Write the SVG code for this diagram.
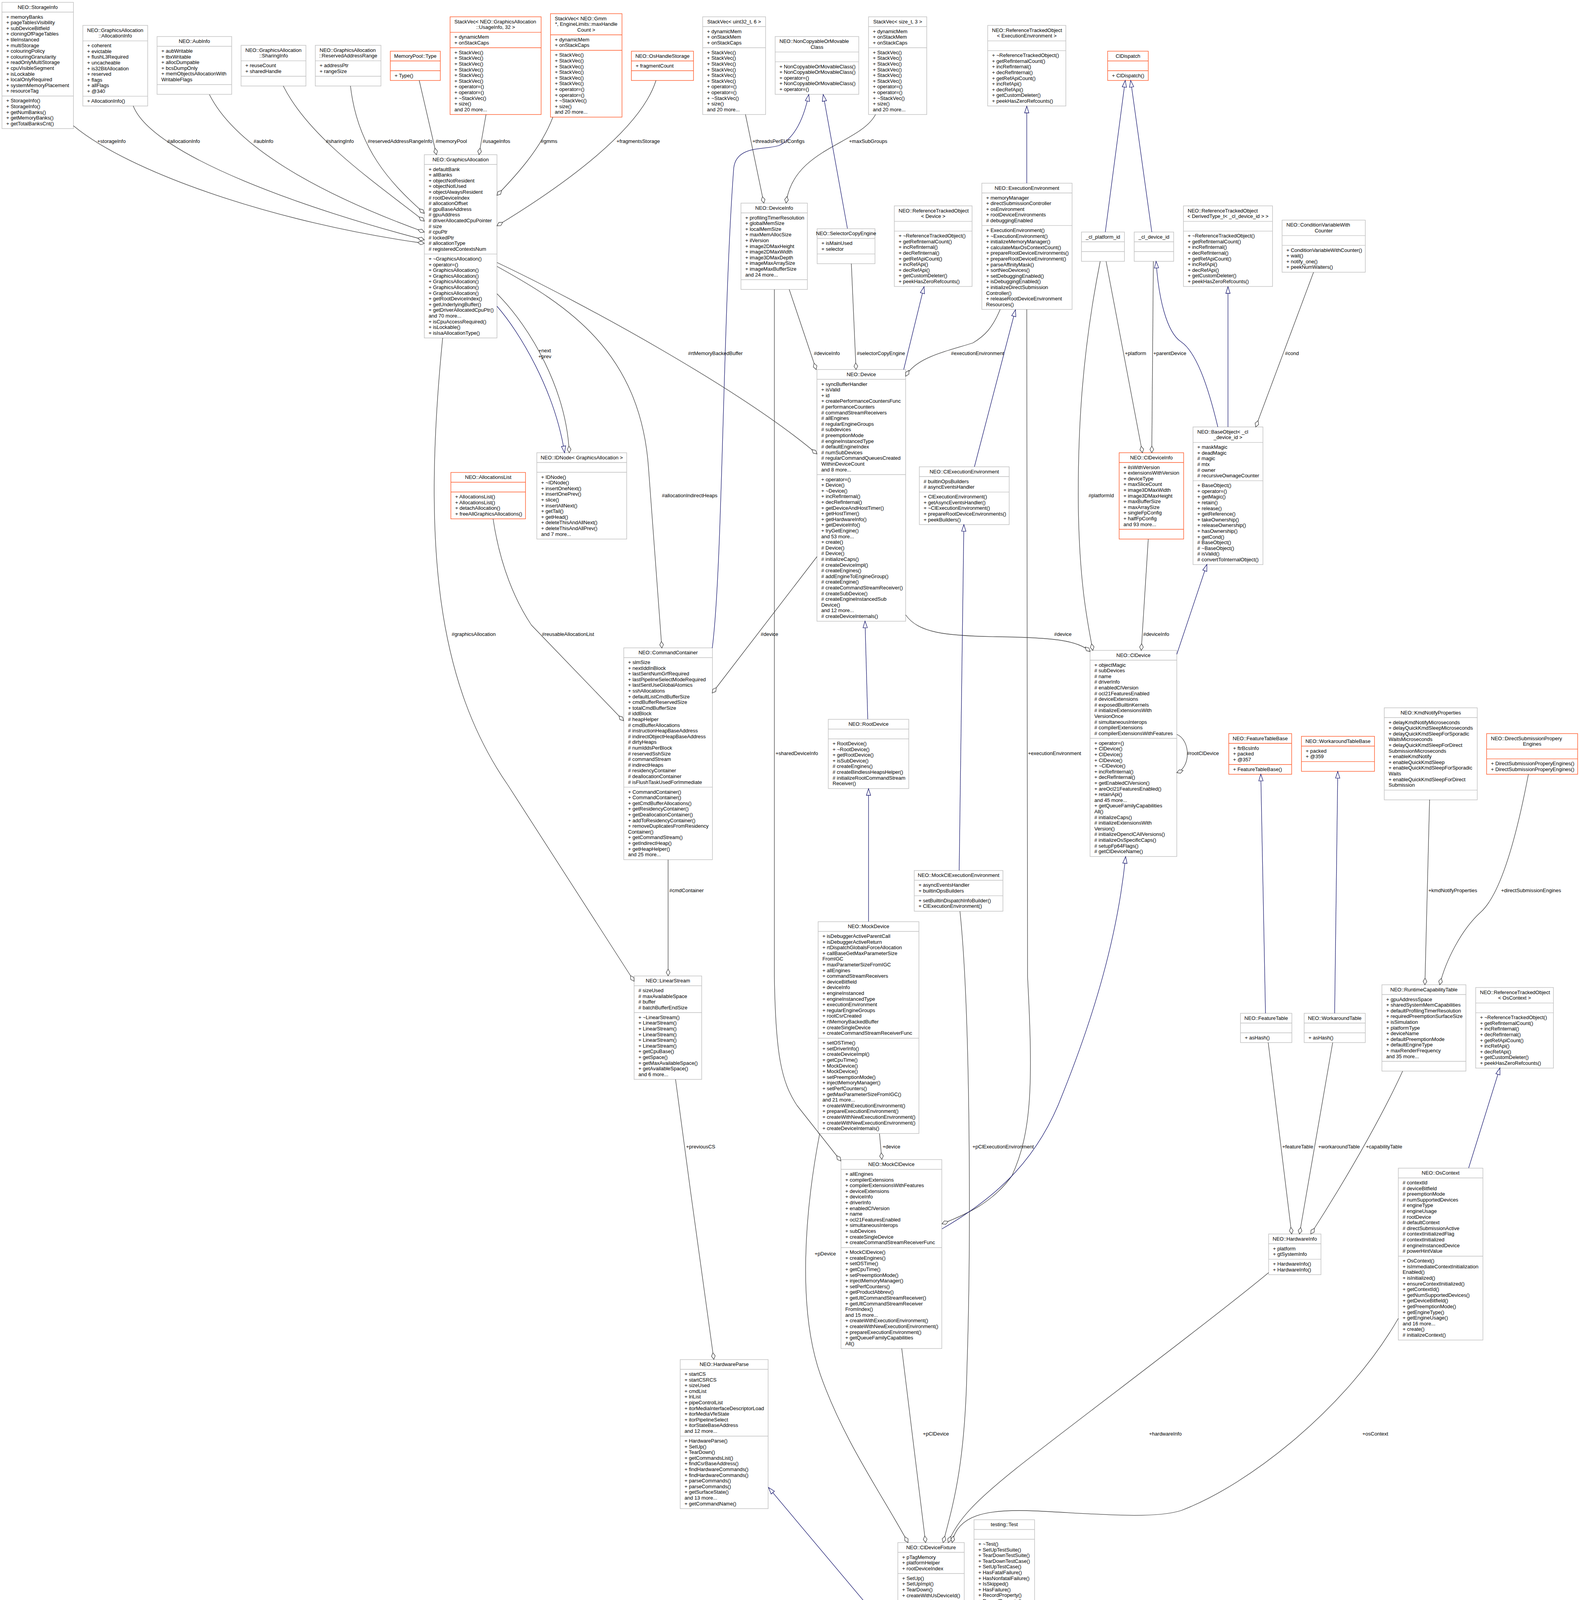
<svg xmlns="http://www.w3.org/2000/svg" width="4044" height="4407" viewBox="0 0 4044 4407">
<defs>
<style>
text{font-family:"Liberation Sans",Arial,sans-serif;font-size:13px;fill:#000}
.c{text-anchor:middle}
.b{fill:#fff;stroke:#bfbfbf;stroke-width:1.4}
.r{fill:#fff;stroke:#ff5a2a;stroke-width:1.4}
.sb{fill:none;stroke:#bfbfbf;stroke-width:1.4}
.sr{fill:none;stroke:#ff5a2a;stroke-width:1.4}
.m{fill:#bfbfbf;stroke:#000;stroke-width:1.4}
.sm{fill:none;stroke:#000;stroke-width:1.4}
.e{fill:none;stroke:#404040;stroke-width:1.3}
.i{fill:none;stroke:#191970;stroke-width:1.3}
</style>
<marker id="dia" viewBox="-2 -7 21 14" refX="17" refY="0" markerWidth="21" markerHeight="14" markerUnits="userSpaceOnUse" orient="auto"><path d="M0,0L8.5,-4.8L17,0L8.5,4.8Z" fill="#fff" stroke="#404040" stroke-width="1.3"/></marker>
<marker id="tri" viewBox="-2 -8 21 16" refX="17" refY="0" markerWidth="21" markerHeight="16" markerUnits="userSpaceOnUse" orient="auto"><path d="M0,-5.5L17,0L0,5.5Z" fill="#fff" stroke="#191970" stroke-width="1.3"/></marker>
</defs>
<rect width="4044" height="4407" fill="#fff"/>

<g id="n_StorageInfo">
<rect class="b" x="5" y="6" width="183" height="323.2"/>
<path class="sb" d="M5,31H188M5,245.8H188"/>
<text class="c" x="96.5" y="22.5">NEO::StorageInfo</text>
<text x="16" y="47.5">+ memoryBanks<tspan x="16" dy="14.6">+ pageTablesVisibility</tspan><tspan x="16" dy="14.6">+ subDeviceBitfield</tspan><tspan x="16" dy="14.6">+ cloningOfPageTables</tspan><tspan x="16" dy="14.6">+ tileInstanced</tspan><tspan x="16" dy="14.6">+ multiStorage</tspan><tspan x="16" dy="14.6">+ colouringPolicy</tspan><tspan x="16" dy="14.6">+ colouringGranularity</tspan><tspan x="16" dy="14.6">+ readOnlyMultiStorage</tspan><tspan x="16" dy="14.6">+ cpuVisibleSegment</tspan><tspan x="16" dy="14.6">+ isLockable</tspan><tspan x="16" dy="14.6">+ localOnlyRequired</tspan><tspan x="16" dy="14.6">+ systemMemoryPlacement</tspan><tspan x="16" dy="14.6">+ resourceTag</tspan></text>
<text x="16" y="262.3">+ StorageInfo()<tspan x="16" dy="14.6">+ StorageInfo()</tspan><tspan x="16" dy="14.6">+ getNumBanks()</tspan><tspan x="16" dy="14.6">+ getMemoryBanks()</tspan><tspan x="16" dy="14.6">+ getTotalBanksCnt()</tspan></text>
</g>

<g id="n_AllocationInfo">
<rect class="b" x="212" y="65" width="166" height="206.4"/>
<path class="sb" d="M212,104.6H378M212,246.4H378"/>
<text x="223" y="81.5">NEO::GraphicsAllocation</text>
<text class="c" x="295" y="96.1">::AllocationInfo</text>
<text x="223" y="121.1">+ coherent<tspan x="223" dy="14.6">+ evictable</tspan><tspan x="223" dy="14.6">+ flushL3Required</tspan><tspan x="223" dy="14.6">+ uncacheable</tspan><tspan x="223" dy="14.6">+ is32BitAllocation</tspan><tspan x="223" dy="14.6">+ reserved</tspan><tspan x="223" dy="14.6">+ flags</tspan><tspan x="223" dy="14.6">+ allFlags</tspan><tspan x="223" dy="14.6">+ @340</tspan></text>
<text x="223" y="262.9">+ AllocationInfo()</text>
</g>

<g id="n_AubInfo">
<rect class="b" x="402" y="93.5" width="191" height="148"/>
<path class="sb" d="M402,118.5H593M402,216.5H593"/>
<text class="c" x="497.5" y="110">NEO::AubInfo</text>
<text x="413" y="135">+ aubWritable<tspan x="413" dy="14.6">+ tbxWritable</tspan><tspan x="413" dy="14.6">+ allocDumpable</tspan><tspan x="413" dy="14.6">+ bcsDumpOnly</tspan><tspan x="413" dy="14.6">+ memObjectsAllocationWith</tspan><tspan x="413" dy="14.6">WritableFlags</tspan></text>
</g>

<g id="n_SharingInfo">
<rect class="b" x="617" y="116" width="166" height="104.2"/>
<path class="sb" d="M617,155.6H783M617,195.2H783"/>
<text x="628" y="132.5">NEO::GraphicsAllocation</text>
<text class="c" x="700" y="147.1">::SharingInfo</text>
<text x="628" y="172.1">+ reuseCount<tspan x="628" dy="14.6">+ sharedHandle</tspan></text>
</g>

<g id="n_ReservedAddressRange">
<rect class="b" x="807" y="116" width="168" height="104.2"/>
<path class="sb" d="M807,155.6H975M807,195.2H975"/>
<text x="818" y="132.5">NEO::GraphicsAllocation</text>
<text class="c" x="891" y="147.1">::ReservedAddressRange</text>
<text x="818" y="172.1">+ addressPtr<tspan x="818" dy="14.6">+ rangeSize</tspan></text>
</g>

<g id="n_MemoryPoolType">
<rect class="r" x="999" y="131" width="128" height="75"/>
<path class="sr" d="M999,156H1127M999,181H1127"/>
<text class="c" x="1063" y="147.5">MemoryPool::Type</text>
<text x="1010" y="197.5">+ Type()</text>
</g>

<g id="n_StackVecUsageInfo">
<rect class="r" x="1152" y="43" width="233" height="250.2"/>
<path class="sr" d="M1152,82.6H1385M1152,122.2H1385"/>
<text x="1163" y="59.5">StackVec&lt; NEO::GraphicsAllocation</text>
<text class="c" x="1268.5" y="74.1">::UsageInfo, 32 &gt;</text>
<text x="1163" y="99.1">+ dynamicMem<tspan x="1163" dy="14.6">+ onStackCaps</tspan></text>
<text x="1163" y="138.7">+ StackVec()<tspan x="1163" dy="14.6">+ StackVec()</tspan><tspan x="1163" dy="14.6">+ StackVec()</tspan><tspan x="1163" dy="14.6">+ StackVec()</tspan><tspan x="1163" dy="14.6">+ StackVec()</tspan><tspan x="1163" dy="14.6">+ StackVec()</tspan><tspan x="1163" dy="14.6">+ operator=()</tspan><tspan x="1163" dy="14.6">+ operator=()</tspan><tspan x="1163" dy="14.6">+ ~StackVec()</tspan><tspan x="1163" dy="14.6">+ size()</tspan><tspan x="1163" dy="14.6">and 20 more...</tspan></text>
</g>

<g id="n_GraphicsAllocation">
<rect class="b" x="1086" y="396" width="186" height="469.2"/>
<path class="sb" d="M1086,421H1272M1086,650.4H1272"/>
<text class="c" x="1179" y="412.5">NEO::GraphicsAllocation</text>
<text x="1097" y="437.5">+ defaultBank<tspan x="1097" dy="14.6">+ allBanks</tspan><tspan x="1097" dy="14.6">+ objectNotResident</tspan><tspan x="1097" dy="14.6">+ objectNotUsed</tspan><tspan x="1097" dy="14.6">+ objectAlwaysResident</tspan><tspan x="1097" dy="14.6"># rootDeviceIndex</tspan><tspan x="1097" dy="14.6"># allocationOffset</tspan><tspan x="1097" dy="14.6"># gpuBaseAddress</tspan><tspan x="1097" dy="14.6"># gpuAddress</tspan><tspan x="1097" dy="14.6"># driverAllocatedCpuPointer</tspan><tspan x="1097" dy="14.6"># size</tspan><tspan x="1097" dy="14.6"># cpuPtr</tspan><tspan x="1097" dy="14.6"># lockedPtr</tspan><tspan x="1097" dy="14.6"># allocationType</tspan><tspan x="1097" dy="14.6"># registeredContextsNum</tspan></text>
<text x="1097" y="666.9">+ ~GraphicsAllocation()<tspan x="1097" dy="14.6">+ operator=()</tspan><tspan x="1097" dy="14.6">+ GraphicsAllocation()</tspan><tspan x="1097" dy="14.6">+ GraphicsAllocation()</tspan><tspan x="1097" dy="14.6">+ GraphicsAllocation()</tspan><tspan x="1097" dy="14.6">+ GraphicsAllocation()</tspan><tspan x="1097" dy="14.6">+ GraphicsAllocation()</tspan><tspan x="1097" dy="14.6">+ getRootDeviceIndex()</tspan><tspan x="1097" dy="14.6">+ getUnderlyingBuffer()</tspan><tspan x="1097" dy="14.6">+ getDriverAllocatedCpuPtr()</tspan><tspan x="1097" dy="14.6">and 70 more...</tspan><tspan x="1097" dy="14.6">+ isCpuAccessRequired()</tspan><tspan x="1097" dy="14.6">+ isLockable()</tspan><tspan x="1097" dy="14.6">+ isIsaAllocationType()</tspan></text>
</g>

<g id="n_StackVecGmm">
<rect class="r" x="1409" y="35" width="183" height="264.8"/>
<path class="sr" d="M1409,89.2H1592M1409,128.8H1592"/>
<text x="1420" y="51.5">StackVec&lt; NEO::Gmm</text>
<text class="c" x="1500.5" y="66.1"> *, EngineLimits::maxHandle</text>
<text class="c" x="1500.5" y="80.7">Count &gt;</text>
<text x="1420" y="105.7">+ dynamicMem<tspan x="1420" dy="14.6">+ onStackCaps</tspan></text>
<text x="1420" y="145.3">+ StackVec()<tspan x="1420" dy="14.6">+ StackVec()</tspan><tspan x="1420" dy="14.6">+ StackVec()</tspan><tspan x="1420" dy="14.6">+ StackVec()</tspan><tspan x="1420" dy="14.6">+ StackVec()</tspan><tspan x="1420" dy="14.6">+ StackVec()</tspan><tspan x="1420" dy="14.6">+ operator=()</tspan><tspan x="1420" dy="14.6">+ operator=()</tspan><tspan x="1420" dy="14.6">+ ~StackVec()</tspan><tspan x="1420" dy="14.6">+ size()</tspan><tspan x="1420" dy="14.6">and 20 more...</tspan></text>
</g>

<g id="n_OsHandleStorage">
<rect class="r" x="1616" y="131" width="159" height="75"/>
<path class="sr" d="M1616,156H1775M1616,181H1775"/>
<text class="c" x="1695.5" y="147.5">NEO::OsHandleStorage</text>
<text x="1627" y="172.5">+ fragmentCount</text>
</g>

<g id="n_StackVecU32">
<rect class="b" x="1798.5" y="43" width="161" height="250.2"/>
<path class="sb" d="M1798.5,68H1959.5M1798.5,122.2H1959.5"/>
<text class="c" x="1879" y="59.5">StackVec&lt; uint32_t, 6 &gt;</text>
<text x="1809.5" y="84.5">+ dynamicMem<tspan x="1809.5" dy="14.6">+ onStackMem</tspan><tspan x="1809.5" dy="14.6">+ onStackCaps</tspan></text>
<text x="1809.5" y="138.7">+ StackVec()<tspan x="1809.5" dy="14.6">+ StackVec()</tspan><tspan x="1809.5" dy="14.6">+ StackVec()</tspan><tspan x="1809.5" dy="14.6">+ StackVec()</tspan><tspan x="1809.5" dy="14.6">+ StackVec()</tspan><tspan x="1809.5" dy="14.6">+ StackVec()</tspan><tspan x="1809.5" dy="14.6">+ operator=()</tspan><tspan x="1809.5" dy="14.6">+ operator=()</tspan><tspan x="1809.5" dy="14.6">+ ~StackVec()</tspan><tspan x="1809.5" dy="14.6">+ size()</tspan><tspan x="1809.5" dy="14.6">and 20 more...</tspan></text>
</g>

<g id="n_NonCopyable">
<rect class="b" x="1984" y="93.5" width="214" height="148"/>
<path class="sb" d="M1984,133.1H2198M1984,158.1H2198"/>
<text x="1995" y="110">NEO::NonCopyableOrMovable</text>
<text class="c" x="2091" y="124.6">Class</text>
<text x="1995" y="174.6">+ NonCopyableOrMovableClass()<tspan x="1995" dy="14.6">+ NonCopyableOrMovableClass()</tspan><tspan x="1995" dy="14.6">+ operator=()</tspan><tspan x="1995" dy="14.6">+ NonCopyableOrMovableClass()</tspan><tspan x="1995" dy="14.6">+ operator=()</tspan></text>
</g>

<g id="n_StackVecSizeT">
<rect class="b" x="2223" y="43" width="149" height="250.2"/>
<path class="sb" d="M2223,68H2372M2223,122.2H2372"/>
<text class="c" x="2297.5" y="59.5">StackVec&lt; size_t, 3 &gt;</text>
<text x="2234" y="84.5">+ dynamicMem<tspan x="2234" dy="14.6">+ onStackMem</tspan><tspan x="2234" dy="14.6">+ onStackCaps</tspan></text>
<text x="2234" y="138.7">+ StackVec()<tspan x="2234" dy="14.6">+ StackVec()</tspan><tspan x="2234" dy="14.6">+ StackVec()</tspan><tspan x="2234" dy="14.6">+ StackVec()</tspan><tspan x="2234" dy="14.6">+ StackVec()</tspan><tspan x="2234" dy="14.6">+ StackVec()</tspan><tspan x="2234" dy="14.6">+ operator=()</tspan><tspan x="2234" dy="14.6">+ operator=()</tspan><tspan x="2234" dy="14.6">+ ~StackVec()</tspan><tspan x="2234" dy="14.6">+ size()</tspan><tspan x="2234" dy="14.6">and 20 more...</tspan></text>
</g>

<g id="n_RefTrackedExecEnv">
<rect class="b" x="2528" y="65" width="200" height="206.4"/>
<path class="sb" d="M2528,104.6H2728M2528,129.6H2728"/>
<text x="2539" y="81.5">NEO::ReferenceTrackedObject</text>
<text class="c" x="2628" y="96.1">&lt; ExecutionEnvironment &gt;</text>
<text x="2539" y="146.1">+ ~ReferenceTrackedObject()<tspan x="2539" dy="14.6">+ getRefInternalCount()</tspan><tspan x="2539" dy="14.6">+ incRefInternal()</tspan><tspan x="2539" dy="14.6">+ decRefInternal()</tspan><tspan x="2539" dy="14.6">+ getRefApiCount()</tspan><tspan x="2539" dy="14.6">+ incRefApi()</tspan><tspan x="2539" dy="14.6">+ decRefApi()</tspan><tspan x="2539" dy="14.6">+ getCustomDeleter()</tspan><tspan x="2539" dy="14.6">+ peekHasZeroRefcounts()</tspan></text>
</g>

<g id="n_DeviceInfo">
<rect class="b" x="1896.5" y="520" width="170" height="221"/>
<path class="sb" d="M1896.5,545H2066.5M1896.5,716H2066.5"/>
<text class="c" x="1981.5" y="536.5">NEO::DeviceInfo</text>
<text x="1907.5" y="561.5">+ profilingTimerResolution<tspan x="1907.5" dy="14.6">+ globalMemSize</tspan><tspan x="1907.5" dy="14.6">+ localMemSize</tspan><tspan x="1907.5" dy="14.6">+ maxMemAllocSize</tspan><tspan x="1907.5" dy="14.6">+ ilVersion</tspan><tspan x="1907.5" dy="14.6">+ image2DMaxHeight</tspan><tspan x="1907.5" dy="14.6">+ image2DMaxWidth</tspan><tspan x="1907.5" dy="14.6">+ image3DMaxDepth</tspan><tspan x="1907.5" dy="14.6">+ imageMaxArraySize</tspan><tspan x="1907.5" dy="14.6">+ imageMaxBufferSize</tspan><tspan x="1907.5" dy="14.6">and 24 more...</tspan></text>
</g>

<g id="n_SelectorCopyEngine">
<rect class="b" x="2091.5" y="585.5" width="148" height="89.6"/>
<path class="sb" d="M2091.5,610.5H2239.5M2091.5,650.1H2239.5"/>
<text class="c" x="2165.5" y="602">NEO::SelectorCopyEngine</text>
<text x="2102.5" y="627">+ isMainUsed<tspan x="2102.5" dy="14.6">+ selector</tspan></text>
</g>

<g id="n_RefTrackedDevice">
<rect class="b" x="2289" y="527" width="199" height="206.4"/>
<path class="sb" d="M2289,566.6H2488M2289,591.6H2488"/>
<text x="2300" y="543.5">NEO::ReferenceTrackedObject</text>
<text class="c" x="2388.5" y="558.1">&lt; Device &gt;</text>
<text x="2300" y="608.1">+ ~ReferenceTrackedObject()<tspan x="2300" dy="14.6">+ getRefInternalCount()</tspan><tspan x="2300" dy="14.6">+ incRefInternal()</tspan><tspan x="2300" dy="14.6">+ decRefInternal()</tspan><tspan x="2300" dy="14.6">+ getRefApiCount()</tspan><tspan x="2300" dy="14.6">+ incRefApi()</tspan><tspan x="2300" dy="14.6">+ decRefApi()</tspan><tspan x="2300" dy="14.6">+ getCustomDeleter()</tspan><tspan x="2300" dy="14.6">+ peekHasZeroRefcounts()</tspan></text>
</g>

<g id="n_ExecutionEnvironment">
<rect class="b" x="2513" y="469" width="231" height="323.2"/>
<path class="sb" d="M2513,494H2744M2513,577.4H2744"/>
<text class="c" x="2628.5" y="485.5">NEO::ExecutionEnvironment</text>
<text x="2524" y="510.5">+ memoryManager<tspan x="2524" dy="14.6">+ directSubmissionController</tspan><tspan x="2524" dy="14.6">+ osEnvironment</tspan><tspan x="2524" dy="14.6">+ rootDeviceEnvironments</tspan><tspan x="2524" dy="14.6"># debuggingEnabled</tspan></text>
<text x="2524" y="593.9">+ ExecutionEnvironment()<tspan x="2524" dy="14.6">+ ~ExecutionEnvironment()</tspan><tspan x="2524" dy="14.6">+ initializeMemoryManager()</tspan><tspan x="2524" dy="14.6">+ calculateMaxOsContextCount()</tspan><tspan x="2524" dy="14.6">+ prepareRootDeviceEnvironments()</tspan><tspan x="2524" dy="14.6">+ prepareRootDeviceEnvironment()</tspan><tspan x="2524" dy="14.6">+ parseAffinityMask()</tspan><tspan x="2524" dy="14.6">+ sortNeoDevices()</tspan><tspan x="2524" dy="14.6">+ setDebuggingEnabled()</tspan><tspan x="2524" dy="14.6">+ isDebuggingEnabled()</tspan><tspan x="2524" dy="14.6">+ initializeDirectSubmission</tspan><tspan x="2524" dy="14.6">Controller()</tspan><tspan x="2524" dy="14.6">+ releaseRootDeviceEnvironment</tspan><tspan x="2524" dy="14.6">Resources()</tspan></text>
</g>

<g id="n_Device">
<rect class="b" x="2091" y="946" width="227" height="644.4"/>
<path class="sb" d="M2091,971H2318M2091,1215H2318"/>
<text class="c" x="2204.5" y="962.5">NEO::Device</text>
<text x="2102" y="987.5">+ syncBufferHandler<tspan x="2102" dy="14.6">+ isValid</tspan><tspan x="2102" dy="14.6">+ id</tspan><tspan x="2102" dy="14.6">+ createPerformanceCountersFunc</tspan><tspan x="2102" dy="14.6"># performanceCounters</tspan><tspan x="2102" dy="14.6"># commandStreamReceivers</tspan><tspan x="2102" dy="14.6"># allEngines</tspan><tspan x="2102" dy="14.6"># regularEngineGroups</tspan><tspan x="2102" dy="14.6"># subdevices</tspan><tspan x="2102" dy="14.6"># preemptionMode</tspan><tspan x="2102" dy="14.6"># engineInstancedType</tspan><tspan x="2102" dy="14.6"># defaultEngineIndex</tspan><tspan x="2102" dy="14.6"># numSubDevices</tspan><tspan x="2102" dy="14.6"># regularCommandQueuesCreated</tspan><tspan x="2102" dy="14.6">WithinDeviceCount</tspan><tspan x="2102" dy="14.6">and 8 more...</tspan></text>
<text x="2102" y="1231.5">+ operator=()<tspan x="2102" dy="14.6">+ Device()</tspan><tspan x="2102" dy="14.6">+ ~Device()</tspan><tspan x="2102" dy="14.6">+ incRefInternal()</tspan><tspan x="2102" dy="14.6">+ decRefInternal()</tspan><tspan x="2102" dy="14.6">+ getDeviceAndHostTimer()</tspan><tspan x="2102" dy="14.6">+ getHostTimer()</tspan><tspan x="2102" dy="14.6">+ getHardwareInfo()</tspan><tspan x="2102" dy="14.6">+ getDeviceInfo()</tspan><tspan x="2102" dy="14.6">+ tryGetEngine()</tspan><tspan x="2102" dy="14.6">and 53 more...</tspan><tspan x="2102" dy="14.6">+ create()</tspan><tspan x="2102" dy="14.6"># Device()</tspan><tspan x="2102" dy="14.6"># Device()</tspan><tspan x="2102" dy="14.6"># initializeCaps()</tspan><tspan x="2102" dy="14.6"># createDeviceImpl()</tspan><tspan x="2102" dy="14.6"># createEngines()</tspan><tspan x="2102" dy="14.6"># addEngineToEngineGroup()</tspan><tspan x="2102" dy="14.6"># createEngine()</tspan><tspan x="2102" dy="14.6"># createCommandStreamReceiver()</tspan><tspan x="2102" dy="14.6"># createSubDevice()</tspan><tspan x="2102" dy="14.6"># createEngineInstancedSub</tspan><tspan x="2102" dy="14.6">Device()</tspan><tspan x="2102" dy="14.6">and 12 more...</tspan><tspan x="2102" dy="14.6"># createDeviceInternals()</tspan></text>
</g>

<g id="n_ClDispatch">
<rect class="r" x="2835" y="131" width="104" height="75"/>
<path class="sr" d="M2835,156H2939M2835,181H2939"/>
<text class="c" x="2887" y="147.5">ClDispatch</text>
<text x="2846" y="197.5">+ ClDispatch()</text>
</g>

<g id="n_cl_platform_id">
<rect class="b" x="2768" y="594" width="110" height="75"/>
<path class="sb" d="M2768,619H2878M2768,644H2878"/>
<text class="c" x="2823" y="610.5">_cl_platform_id</text>
</g>

<g id="n_cl_device_id">
<rect class="b" x="2903" y="594" width="101" height="75"/>
<path class="sb" d="M2903,619H3004M2903,644H3004"/>
<text class="c" x="2953.5" y="610.5">_cl_device_id</text>
</g>

<g id="n_RefTrackedDerived">
<rect class="b" x="3029" y="527" width="228" height="206.4"/>
<path class="sb" d="M3029,566.6H3257M3029,591.6H3257"/>
<text x="3040" y="543.5">NEO::ReferenceTrackedObject</text>
<text class="c" x="3143" y="558.1">&lt; DerivedType_t&lt; _cl_device_id &gt; &gt;</text>
<text x="3040" y="608.1">+ ~ReferenceTrackedObject()<tspan x="3040" dy="14.6">+ getRefInternalCount()</tspan><tspan x="3040" dy="14.6">+ incRefInternal()</tspan><tspan x="3040" dy="14.6">+ decRefInternal()</tspan><tspan x="3040" dy="14.6">+ getRefApiCount()</tspan><tspan x="3040" dy="14.6">+ incRefApi()</tspan><tspan x="3040" dy="14.6">+ decRefApi()</tspan><tspan x="3040" dy="14.6">+ getCustomDeleter()</tspan><tspan x="3040" dy="14.6">+ peekHasZeroRefcounts()</tspan></text>
</g>

<g id="n_ConditionVariableWithCounter">
<rect class="b" x="3281.5" y="563.5" width="213" height="133.4"/>
<path class="sb" d="M3281.5,603.1H3494.5M3281.5,628.1H3494.5"/>
<text x="3292.5" y="580">NEO::ConditionVariableWith</text>
<text class="c" x="3388" y="594.6">Counter</text>
<text x="3292.5" y="644.6">+ ConditionVariableWithCounter()<tspan x="3292.5" dy="14.6">+ wait()</tspan><tspan x="3292.5" dy="14.6">+ notify_one()</tspan><tspan x="3292.5" dy="14.6">+ peekNumWaiters()</tspan></text>
</g>

<g id="n_BaseObject">
<rect class="b" x="3053.5" y="1093" width="179" height="352.4"/>
<path class="sb" d="M3053.5,1132.6H3232.5M3053.5,1230.6H3232.5"/>
<text x="3064.5" y="1109.5">NEO::BaseObject&lt; _cl</text>
<text class="c" x="3143" y="1124.1">_device_id &gt;</text>
<text x="3064.5" y="1149.1">+ maskMagic<tspan x="3064.5" dy="14.6">+ deadMagic</tspan><tspan x="3064.5" dy="14.6"># magic</tspan><tspan x="3064.5" dy="14.6"># mtx</tspan><tspan x="3064.5" dy="14.6"># owner</tspan><tspan x="3064.5" dy="14.6"># recursiveOwnageCounter</tspan></text>
<text x="3064.5" y="1247.1">+ BaseObject()<tspan x="3064.5" dy="14.6">+ operator=()</tspan><tspan x="3064.5" dy="14.6">+ getMagic()</tspan><tspan x="3064.5" dy="14.6">+ retain()</tspan><tspan x="3064.5" dy="14.6">+ release()</tspan><tspan x="3064.5" dy="14.6">+ getReference()</tspan><tspan x="3064.5" dy="14.6">+ takeOwnership()</tspan><tspan x="3064.5" dy="14.6">+ releaseOwnership()</tspan><tspan x="3064.5" dy="14.6">+ hasOwnership()</tspan><tspan x="3064.5" dy="14.6">+ getCond()</tspan><tspan x="3064.5" dy="14.6"># BaseObject()</tspan><tspan x="3064.5" dy="14.6"># ~BaseObject()</tspan><tspan x="3064.5" dy="14.6"># isValid()</tspan><tspan x="3064.5" dy="14.6"># convertToInternalObject()</tspan></text>
</g>

<g id="n_AllocationsList">
<rect class="r" x="1154" y="1209.5" width="191" height="118.8"/>
<path class="sr" d="M1154,1234.5H1345M1154,1259.5H1345"/>
<text class="c" x="1249.5" y="1226">NEO::AllocationsList</text>
<text x="1165" y="1276">+ AllocationsList()<tspan x="1165" dy="14.6">+ AllocationsList()</tspan><tspan x="1165" dy="14.6">+ detachAllocation()</tspan><tspan x="1165" dy="14.6">+ freeAllGraphicsAllocations()</tspan></text>
</g>

<g id="n_IDNode">
<rect class="b" x="1374" y="1159" width="230" height="221"/>
<path class="sb" d="M1374,1184H1604M1374,1209H1604"/>
<text class="c" x="1489" y="1175.5">NEO::IDNode&lt; GraphicsAllocation &gt;</text>
<text x="1385" y="1225.5">+ IDNode()<tspan x="1385" dy="14.6">+ ~IDNode()</tspan><tspan x="1385" dy="14.6">+ insertOneNext()</tspan><tspan x="1385" dy="14.6">+ insertOnePrev()</tspan><tspan x="1385" dy="14.6">+ slice()</tspan><tspan x="1385" dy="14.6">+ insertAllNext()</tspan><tspan x="1385" dy="14.6">+ getTail()</tspan><tspan x="1385" dy="14.6">+ getHead()</tspan><tspan x="1385" dy="14.6">+ deleteThisAndAllNext()</tspan><tspan x="1385" dy="14.6">+ deleteThisAndAllPrev()</tspan><tspan x="1385" dy="14.6">and 7 more...</tspan></text>
</g>

<g id="n_CommandContainer">
<rect class="b" x="1596.5" y="1658.5" width="227" height="542.2"/>
<path class="sb" d="M1596.5,1683.5H1823.5M1596.5,2015.1H1823.5"/>
<text class="c" x="1710" y="1675">NEO::CommandContainer</text>
<text x="1607.5" y="1700">+ slmSize<tspan x="1607.5" dy="14.6">+ nextIddInBlock</tspan><tspan x="1607.5" dy="14.6">+ lastSentNumGrfRequired</tspan><tspan x="1607.5" dy="14.6">+ lastPipelineSelectModeRequired</tspan><tspan x="1607.5" dy="14.6">+ lastSentUseGlobalAtomics</tspan><tspan x="1607.5" dy="14.6">+ sshAllocations</tspan><tspan x="1607.5" dy="14.6">+ defaultListCmdBufferSize</tspan><tspan x="1607.5" dy="14.6">+ cmdBufferReservedSize</tspan><tspan x="1607.5" dy="14.6">+ totalCmdBufferSize</tspan><tspan x="1607.5" dy="14.6"># iddBlock</tspan><tspan x="1607.5" dy="14.6"># heapHelper</tspan><tspan x="1607.5" dy="14.6"># cmdBufferAllocations</tspan><tspan x="1607.5" dy="14.6"># instructionHeapBaseAddress</tspan><tspan x="1607.5" dy="14.6"># indirectObjectHeapBaseAddress</tspan><tspan x="1607.5" dy="14.6"># dirtyHeaps</tspan><tspan x="1607.5" dy="14.6"># numIddsPerBlock</tspan><tspan x="1607.5" dy="14.6"># reservedSshSize</tspan><tspan x="1607.5" dy="14.6"># commandStream</tspan><tspan x="1607.5" dy="14.6"># indirectHeaps</tspan><tspan x="1607.5" dy="14.6"># residencyContainer</tspan><tspan x="1607.5" dy="14.6"># deallocationContainer</tspan><tspan x="1607.5" dy="14.6"># isFlushTaskUsedForImmediate</tspan></text>
<text x="1607.5" y="2031.6">+ CommandContainer()<tspan x="1607.5" dy="14.6">+ CommandContainer()</tspan><tspan x="1607.5" dy="14.6">+ getCmdBufferAllocations()</tspan><tspan x="1607.5" dy="14.6">+ getResidencyContainer()</tspan><tspan x="1607.5" dy="14.6">+ getDeallocationContainer()</tspan><tspan x="1607.5" dy="14.6">+ addToResidencyContainer()</tspan><tspan x="1607.5" dy="14.6">+ removeDuplicatesFromResidency</tspan><tspan x="1607.5" dy="14.6">Container()</tspan><tspan x="1607.5" dy="14.6">+ getCommandStream()</tspan><tspan x="1607.5" dy="14.6">+ getIndirectHeap()</tspan><tspan x="1607.5" dy="14.6">+ getHeapHelper()</tspan><tspan x="1607.5" dy="14.6">and 25 more...</tspan></text>
</g>

<g id="n_ClExecutionEnvironment">
<rect class="b" x="2353" y="1195" width="230" height="148"/>
<path class="sb" d="M2353,1220H2583M2353,1259.6H2583"/>
<text class="c" x="2468" y="1211.5">NEO::ClExecutionEnvironment</text>
<text x="2364" y="1236.5"># builtinOpsBuilders<tspan x="2364" dy="14.6"># asyncEventsHandler</tspan></text>
<text x="2364" y="1276.1">+ ClExecutionEnvironment()<tspan x="2364" dy="14.6">+ getAsyncEventsHandler()</tspan><tspan x="2364" dy="14.6">+ ~ClExecutionEnvironment()</tspan><tspan x="2364" dy="14.6">+ prepareRootDeviceEnvironments()</tspan><tspan x="2364" dy="14.6">+ peekBuilders()</tspan></text>
</g>

<g id="n_RootDevice">
<rect class="b" x="2120" y="1841.5" width="206" height="177.2"/>
<path class="sb" d="M2120,1866.5H2326M2120,1891.5H2326"/>
<text class="c" x="2223" y="1858">NEO::RootDevice</text>
<text x="2131" y="1908">+ RootDevice()<tspan x="2131" dy="14.6">+ ~RootDevice()</tspan><tspan x="2131" dy="14.6">+ getRootDevice()</tspan><tspan x="2131" dy="14.6">+ isSubDevice()</tspan><tspan x="2131" dy="14.6"># createEngines()</tspan><tspan x="2131" dy="14.6"># createBindlessHeapsHelper()</tspan><tspan x="2131" dy="14.6"># initializeRootCommandStream</tspan><tspan x="2131" dy="14.6">Receiver()</tspan></text>
</g>

<g id="n_ClDeviceInfo">
<rect class="r" x="2864.5" y="1159" width="165" height="221"/>
<path class="sr" d="M2864.5,1184H3029.5M2864.5,1355H3029.5"/>
<text class="c" x="2947" y="1175.5">NEO::ClDeviceInfo</text>
<text x="2875.5" y="1200.5">+ ilsWithVersion<tspan x="2875.5" dy="14.6">+ extensionsWithVersion</tspan><tspan x="2875.5" dy="14.6">+ deviceType</tspan><tspan x="2875.5" dy="14.6">+ maxSliceCount</tspan><tspan x="2875.5" dy="14.6">+ image3DMaxWidth</tspan><tspan x="2875.5" dy="14.6">+ image3DMaxHeight</tspan><tspan x="2875.5" dy="14.6">+ maxBufferSize</tspan><tspan x="2875.5" dy="14.6">+ maxArraySize</tspan><tspan x="2875.5" dy="14.6">+ singleFpConfig</tspan><tspan x="2875.5" dy="14.6">+ halfFpConfig</tspan><tspan x="2875.5" dy="14.6">and 93 more...</tspan></text>
</g>

<g id="n_ClDevice">
<rect class="b" x="2790" y="1665" width="222" height="527.6"/>
<path class="sb" d="M2790,1690H3012M2790,1890.2H3012"/>
<text class="c" x="2901" y="1681.5">NEO::ClDevice</text>
<text x="2801" y="1706.5">+ objectMagic<tspan x="2801" dy="14.6"># subDevices</tspan><tspan x="2801" dy="14.6"># name</tspan><tspan x="2801" dy="14.6"># driverInfo</tspan><tspan x="2801" dy="14.6"># enabledClVersion</tspan><tspan x="2801" dy="14.6"># ocl21FeaturesEnabled</tspan><tspan x="2801" dy="14.6"># deviceExtensions</tspan><tspan x="2801" dy="14.6"># exposedBuiltinKernels</tspan><tspan x="2801" dy="14.6"># initializeExtensionsWith</tspan><tspan x="2801" dy="14.6">VersionOnce</tspan><tspan x="2801" dy="14.6"># simultaneousInterops</tspan><tspan x="2801" dy="14.6"># compilerExtensions</tspan><tspan x="2801" dy="14.6"># compilerExtensionsWithFeatures</tspan></text>
<text x="2801" y="1906.7">+ operator=()<tspan x="2801" dy="14.6">+ ClDevice()</tspan><tspan x="2801" dy="14.6">+ ClDevice()</tspan><tspan x="2801" dy="14.6">+ ClDevice()</tspan><tspan x="2801" dy="14.6">+ ~ClDevice()</tspan><tspan x="2801" dy="14.6">+ incRefInternal()</tspan><tspan x="2801" dy="14.6">+ decRefInternal()</tspan><tspan x="2801" dy="14.6">+ getEnabledClVersion()</tspan><tspan x="2801" dy="14.6">+ areOcl21FeaturesEnabled()</tspan><tspan x="2801" dy="14.6">+ retainApi()</tspan><tspan x="2801" dy="14.6">and 45 more...</tspan><tspan x="2801" dy="14.6">+ getQueueFamilyCapabilities</tspan><tspan x="2801" dy="14.6">All()</tspan><tspan x="2801" dy="14.6"># initializeCaps()</tspan><tspan x="2801" dy="14.6"># initializeExtensionsWith</tspan><tspan x="2801" dy="14.6">Version()</tspan><tspan x="2801" dy="14.6"># initializeOpenclCAllVersions()</tspan><tspan x="2801" dy="14.6"># initializeOsSpecificCaps()</tspan><tspan x="2801" dy="14.6"># setupFp64Flags()</tspan><tspan x="2801" dy="14.6"># getClDeviceName()</tspan></text>
</g>

<g id="n_FeatureTableBase">
<rect class="r" x="3145" y="1878" width="161" height="104.2"/>
<path class="sr" d="M3145,1903H3306M3145,1957.2H3306"/>
<text class="c" x="3225.5" y="1894.5">NEO::FeatureTableBase</text>
<text x="3156" y="1919.5">+ ftrBcsInfo<tspan x="3156" dy="14.6">+ packed</tspan><tspan x="3156" dy="14.6">+ @357</tspan></text>
<text x="3156" y="1973.7">+ FeatureTableBase()</text>
</g>

<g id="n_WorkaroundTableBase">
<rect class="r" x="3331" y="1885" width="187" height="89.6"/>
<path class="sr" d="M3331,1910H3518M3331,1949.6H3518"/>
<text class="c" x="3424.5" y="1901.5">NEO::WorkaroundTableBase</text>
<text x="3342" y="1926.5">+ packed<tspan x="3342" dy="14.6">+ @359</tspan></text>
</g>

<g id="n_KmdNotifyProperties">
<rect class="b" x="3543" y="1812" width="238" height="235.6"/>
<path class="sb" d="M3543,1837H3781M3543,2022.6H3781"/>
<text class="c" x="3662" y="1828.5">NEO::KmdNotifyProperties</text>
<text x="3554" y="1853.5">+ delayKmdNotifyMicroseconds<tspan x="3554" dy="14.6">+ delayQuickKmdSleepMicroseconds</tspan><tspan x="3554" dy="14.6">+ delayQuickKmdSleepForSporadic</tspan><tspan x="3554" dy="14.6">WaitsMicroseconds</tspan><tspan x="3554" dy="14.6">+ delayQuickKmdSleepForDirect</tspan><tspan x="3554" dy="14.6">SubmissionMicroseconds</tspan><tspan x="3554" dy="14.6">+ enableKmdNotify</tspan><tspan x="3554" dy="14.6">+ enableQuickKmdSleep</tspan><tspan x="3554" dy="14.6">+ enableQuickKmdSleepForSporadic</tspan><tspan x="3554" dy="14.6">Waits</tspan><tspan x="3554" dy="14.6">+ enableQuickKmdSleepForDirect</tspan><tspan x="3554" dy="14.6">Submission</tspan></text>
</g>

<g id="n_DirectSubmissionProperyEngines">
<rect class="r" x="3805" y="1878" width="233" height="104.2"/>
<path class="sr" d="M3805,1917.6H4038M3805,1942.6H4038"/>
<text x="3816" y="1894.5">NEO::DirectSubmissionPropery</text>
<text class="c" x="3921.5" y="1909.1">Engines</text>
<text x="3816" y="1959.1">+ DirectSubmissionProperyEngines()<tspan x="3816" dy="14.6">+ DirectSubmissionProperyEngines()</tspan></text>
</g>

<g id="n_LinearStream">
<rect class="b" x="1623" y="2498.5" width="173" height="264.8"/>
<path class="sb" d="M1623,2523.5H1796M1623,2592.3H1796"/>
<text class="c" x="1709.5" y="2515">NEO::LinearStream</text>
<text x="1634" y="2540"># sizeUsed<tspan x="1634" dy="14.6"># maxAvailableSpace</tspan><tspan x="1634" dy="14.6"># buffer</tspan><tspan x="1634" dy="14.6"># batchBufferEndSize</tspan></text>
<text x="1634" y="2608.8">+ ~LinearStream()<tspan x="1634" dy="14.6">+ LinearStream()</tspan><tspan x="1634" dy="14.6">+ LinearStream()</tspan><tspan x="1634" dy="14.6">+ LinearStream()</tspan><tspan x="1634" dy="14.6">+ LinearStream()</tspan><tspan x="1634" dy="14.6">+ LinearStream()</tspan><tspan x="1634" dy="14.6">+ getCpuBase()</tspan><tspan x="1634" dy="14.6">+ getSpace()</tspan><tspan x="1634" dy="14.6">+ getMaxAvailableSpace()</tspan><tspan x="1634" dy="14.6">+ getAvailableSpace()</tspan><tspan x="1634" dy="14.6">and 6 more...</tspan></text>
</g>

<g id="n_MockClExecutionEnvironment">
<rect class="b" x="2340" y="2228.5" width="227" height="104.2"/>
<path class="sb" d="M2340,2253.5H2567M2340,2293.1H2567"/>
<text class="c" x="2453.5" y="2245">NEO::MockClExecutionEnvironment</text>
<text x="2351" y="2270">+ asyncEventsHandler<tspan x="2351" dy="14.6">+ builtinOpsBuilders</tspan></text>
<text x="2351" y="2309.6">+ setBuiltinDispatchInfoBuilder()<tspan x="2351" dy="14.6">+ ClExecutionEnvironment()</tspan></text>
</g>

<g id="n_MockDevice">
<rect class="b" x="2094" y="2359.5" width="258" height="542.2"/>
<path class="sb" d="M2094,2384.5H2352M2094,2657.7H2352"/>
<text class="c" x="2223" y="2376">NEO::MockDevice</text>
<text x="2105" y="2401">+ isDebuggerActiveParentCall<tspan x="2105" dy="14.6">+ isDebuggerActiveReturn</tspan><tspan x="2105" dy="14.6">+ rtDispatchGlobalsForceAllocation</tspan><tspan x="2105" dy="14.6">+ callBaseGetMaxParameterSize</tspan><tspan x="2105" dy="14.6">FromIGC</tspan><tspan x="2105" dy="14.6">+ maxParameterSizeFromIGC</tspan><tspan x="2105" dy="14.6">+ allEngines</tspan><tspan x="2105" dy="14.6">+ commandStreamReceivers</tspan><tspan x="2105" dy="14.6">+ deviceBitfield</tspan><tspan x="2105" dy="14.6">+ deviceInfo</tspan><tspan x="2105" dy="14.6">+ engineInstanced</tspan><tspan x="2105" dy="14.6">+ engineInstancedType</tspan><tspan x="2105" dy="14.6">+ executionEnvironment</tspan><tspan x="2105" dy="14.6">+ regularEngineGroups</tspan><tspan x="2105" dy="14.6">+ rootCsrCreated</tspan><tspan x="2105" dy="14.6">+ rtMemoryBackedBuffer</tspan><tspan x="2105" dy="14.6">+ createSingleDevice</tspan><tspan x="2105" dy="14.6">+ createCommandStreamReceiverFunc</tspan></text>
<text x="2105" y="2674.2">+ setOSTime()<tspan x="2105" dy="14.6">+ setDriverInfo()</tspan><tspan x="2105" dy="14.6">+ createDeviceImpl()</tspan><tspan x="2105" dy="14.6">+ getCpuTime()</tspan><tspan x="2105" dy="14.6">+ MockDevice()</tspan><tspan x="2105" dy="14.6">+ MockDevice()</tspan><tspan x="2105" dy="14.6">+ setPreemptionMode()</tspan><tspan x="2105" dy="14.6">+ injectMemoryManager()</tspan><tspan x="2105" dy="14.6">+ setPerfCounters()</tspan><tspan x="2105" dy="14.6">+ getMaxParameterSizeFromIGC()</tspan><tspan x="2105" dy="14.6">and 21 more...</tspan><tspan x="2105" dy="14.6">+ createWithExecutionEnvironment()</tspan><tspan x="2105" dy="14.6">+ prepareExecutionEnvironment()</tspan><tspan x="2105" dy="14.6">+ createWithNewExecutionEnvironment()</tspan><tspan x="2105" dy="14.6">+ createWithNewExecutionEnvironment()</tspan><tspan x="2105" dy="14.6">+ createDeviceInternals()</tspan></text>
</g>

<g id="n_MockClDevice">
<rect class="b" x="2152.5" y="2968.5" width="258" height="483.8"/>
<path class="sb" d="M2152.5,2993.5H2410.5M2152.5,3193.7H2410.5"/>
<text class="c" x="2281.5" y="2985">NEO::MockClDevice</text>
<text x="2163.5" y="3010">+ allEngines<tspan x="2163.5" dy="14.6">+ compilerExtensions</tspan><tspan x="2163.5" dy="14.6">+ compilerExtensionsWithFeatures</tspan><tspan x="2163.5" dy="14.6">+ deviceExtensions</tspan><tspan x="2163.5" dy="14.6">+ deviceInfo</tspan><tspan x="2163.5" dy="14.6">+ driverInfo</tspan><tspan x="2163.5" dy="14.6">+ enabledClVersion</tspan><tspan x="2163.5" dy="14.6">+ name</tspan><tspan x="2163.5" dy="14.6">+ ocl21FeaturesEnabled</tspan><tspan x="2163.5" dy="14.6">+ simultaneousInterops</tspan><tspan x="2163.5" dy="14.6">+ subDevices</tspan><tspan x="2163.5" dy="14.6">+ createSingleDevice</tspan><tspan x="2163.5" dy="14.6">+ createCommandStreamReceiverFunc</tspan></text>
<text x="2163.5" y="3210.2">+ MockClDevice()<tspan x="2163.5" dy="14.6">+ createEngines()</tspan><tspan x="2163.5" dy="14.6">+ setOSTime()</tspan><tspan x="2163.5" dy="14.6">+ getCpuTime()</tspan><tspan x="2163.5" dy="14.6">+ setPreemptionMode()</tspan><tspan x="2163.5" dy="14.6">+ injectMemoryManager()</tspan><tspan x="2163.5" dy="14.6">+ setPerfCounters()</tspan><tspan x="2163.5" dy="14.6">+ getProductAbbrev()</tspan><tspan x="2163.5" dy="14.6">+ getUltCommandStreamReceiver()</tspan><tspan x="2163.5" dy="14.6">+ getUltCommandStreamReceiver</tspan><tspan x="2163.5" dy="14.6">FromIndex()</tspan><tspan x="2163.5" dy="14.6">and 15 more...</tspan><tspan x="2163.5" dy="14.6">+ createWithExecutionEnvironment()</tspan><tspan x="2163.5" dy="14.6">+ createWithNewExecutionEnvironment()</tspan><tspan x="2163.5" dy="14.6">+ prepareExecutionEnvironment()</tspan><tspan x="2163.5" dy="14.6">+ getQueueFamilyCapabilities</tspan><tspan x="2163.5" dy="14.6">All()</tspan></text>
</g>

<g id="n_FeatureTable">
<rect class="b" x="3175" y="2594" width="131.5" height="75"/>
<path class="sb" d="M3175,2619H3306.5M3175,2644H3306.5"/>
<text class="c" x="3240.75" y="2610.5">NEO::FeatureTable</text>
<text x="3186" y="2660.5">+ asHash()</text>
</g>

<g id="n_WorkaroundTable">
<rect class="b" x="3338" y="2594" width="156.5" height="75"/>
<path class="sb" d="M3338,2619H3494.5M3338,2644H3494.5"/>
<text class="c" x="3416.25" y="2610.5">NEO::WorkaroundTable</text>
<text x="3349" y="2660.5">+ asHash()</text>
</g>

<g id="n_RuntimeCapabilityTable">
<rect class="b" x="3537" y="2521" width="215" height="221"/>
<path class="sb" d="M3537,2546H3752M3537,2717H3752"/>
<text class="c" x="3644.5" y="2537.5">NEO::RuntimeCapabilityTable</text>
<text x="3548" y="2562.5">+ gpuAddressSpace<tspan x="3548" dy="14.6">+ sharedSystemMemCapabilities</tspan><tspan x="3548" dy="14.6">+ defaultProfilingTimerResolution</tspan><tspan x="3548" dy="14.6">+ requiredPreemptionSurfaceSize</tspan><tspan x="3548" dy="14.6">+ isSimulation</tspan><tspan x="3548" dy="14.6">+ platformType</tspan><tspan x="3548" dy="14.6">+ deviceName</tspan><tspan x="3548" dy="14.6">+ defaultPreemptionMode</tspan><tspan x="3548" dy="14.6">+ defaultEngineType</tspan><tspan x="3548" dy="14.6">+ maxRenderFrequency</tspan><tspan x="3548" dy="14.6">and 35 more...</tspan></text>
</g>

<g id="n_RefTrackedOsContext">
<rect class="b" x="3777" y="2528" width="199" height="206.4"/>
<path class="sb" d="M3777,2567.6H3976M3777,2592.6H3976"/>
<text x="3788" y="2544.5">NEO::ReferenceTrackedObject</text>
<text class="c" x="3876.5" y="2559.1">&lt; OsContext &gt;</text>
<text x="3788" y="2609.1">+ ~ReferenceTrackedObject()<tspan x="3788" dy="14.6">+ getRefInternalCount()</tspan><tspan x="3788" dy="14.6">+ incRefInternal()</tspan><tspan x="3788" dy="14.6">+ decRefInternal()</tspan><tspan x="3788" dy="14.6">+ getRefApiCount()</tspan><tspan x="3788" dy="14.6">+ incRefApi()</tspan><tspan x="3788" dy="14.6">+ decRefApi()</tspan><tspan x="3788" dy="14.6">+ getCustomDeleter()</tspan><tspan x="3788" dy="14.6">+ peekHasZeroRefcounts()</tspan></text>
</g>

<g id="n_HardwareInfo">
<rect class="b" x="3247" y="3159" width="134" height="104.2"/>
<path class="sb" d="M3247,3184H3381M3247,3223.6H3381"/>
<text class="c" x="3314" y="3175.5">NEO::HardwareInfo</text>
<text x="3258" y="3200.5">+ platform<tspan x="3258" dy="14.6">+ gtSystemInfo</tspan></text>
<text x="3258" y="3240.1">+ HardwareInfo()<tspan x="3258" dy="14.6">+ HardwareInfo()</tspan></text>
</g>

<g id="n_OsContext">
<rect class="b" x="3579" y="2990.5" width="216.5" height="440"/>
<path class="sb" d="M3579,3015.5H3795.5M3579,3215.7H3795.5"/>
<text class="c" x="3687.25" y="3007">NEO::OsContext</text>
<text x="3590" y="3032"># contextId<tspan x="3590" dy="14.6"># deviceBitfield</tspan><tspan x="3590" dy="14.6"># preemptionMode</tspan><tspan x="3590" dy="14.6"># numSupportedDevices</tspan><tspan x="3590" dy="14.6"># engineType</tspan><tspan x="3590" dy="14.6"># engineUsage</tspan><tspan x="3590" dy="14.6"># rootDevice</tspan><tspan x="3590" dy="14.6"># defaultContext</tspan><tspan x="3590" dy="14.6"># directSubmissionActive</tspan><tspan x="3590" dy="14.6"># contextInitializedFlag</tspan><tspan x="3590" dy="14.6"># contextInitialized</tspan><tspan x="3590" dy="14.6"># engineInstancedDevice</tspan><tspan x="3590" dy="14.6"># powerHintValue</tspan></text>
<text x="3590" y="3232.2">+ OsContext()<tspan x="3590" dy="14.6">+ isImmediateContextInitialization</tspan><tspan x="3590" dy="14.6">Enabled()</tspan><tspan x="3590" dy="14.6">+ isInitialized()</tspan><tspan x="3590" dy="14.6">+ ensureContextInitialized()</tspan><tspan x="3590" dy="14.6">+ getContextId()</tspan><tspan x="3590" dy="14.6">+ getNumSupportedDevices()</tspan><tspan x="3590" dy="14.6">+ getDeviceBitfield()</tspan><tspan x="3590" dy="14.6">+ getPreemptionMode()</tspan><tspan x="3590" dy="14.6">+ getEngineType()</tspan><tspan x="3590" dy="14.6">+ getEngineUsage()</tspan><tspan x="3590" dy="14.6">and 16 more...</tspan><tspan x="3590" dy="14.6">+ create()</tspan><tspan x="3590" dy="14.6"># initializeContext()</tspan></text>
</g>

<g id="n_HardwareParse">
<rect class="b" x="1741" y="3480.5" width="225" height="381.6"/>
<path class="sb" d="M1741,3505.5H1966M1741,3676.5H1966"/>
<text class="c" x="1853.5" y="3497">NEO::HardwareParse</text>
<text x="1752" y="3522">+ startCS<tspan x="1752" dy="14.6">+ startCSRCS</tspan><tspan x="1752" dy="14.6">+ sizeUsed</tspan><tspan x="1752" dy="14.6">+ cmdList</tspan><tspan x="1752" dy="14.6">+ lriList</tspan><tspan x="1752" dy="14.6">+ pipeControlList</tspan><tspan x="1752" dy="14.6">+ itorMediaInterfaceDescriptorLoad</tspan><tspan x="1752" dy="14.6">+ itorMediaVfeState</tspan><tspan x="1752" dy="14.6">+ itorPipelineSelect</tspan><tspan x="1752" dy="14.6">+ itorStateBaseAddress</tspan><tspan x="1752" dy="14.6">and 12 more...</tspan></text>
<text x="1752" y="3693">+ HardwareParse()<tspan x="1752" dy="14.6">+ SetUp()</tspan><tspan x="1752" dy="14.6">+ TearDown()</tspan><tspan x="1752" dy="14.6">+ getCommandsList()</tspan><tspan x="1752" dy="14.6">+ findCsrBaseAddress()</tspan><tspan x="1752" dy="14.6">+ findHardwareCommands()</tspan><tspan x="1752" dy="14.6">+ findHardwareCommands()</tspan><tspan x="1752" dy="14.6">+ parseCommands()</tspan><tspan x="1752" dy="14.6">+ parseCommands()</tspan><tspan x="1752" dy="14.6">+ getSurfaceState()</tspan><tspan x="1752" dy="14.6">and 13 more...</tspan><tspan x="1752" dy="14.6">+ getCommandName()</tspan></text>
</g>

<g id="n_ClDeviceFixture">
<rect class="b" x="2298" y="3949" width="170" height="148"/>
<path class="sb" d="M2298,3974H2468M2298,4028.2H2468"/>
<text class="c" x="2383" y="3965.5">NEO::ClDeviceFixture</text>
<text x="2309" y="3990.5">+ pTagMemory<tspan x="2309" dy="14.6">+ platformHelper</tspan><tspan x="2309" dy="14.6">+ rootDeviceIndex</tspan></text>
<text x="2309" y="4044.7">+ SetUp()<tspan x="2309" dy="14.6">+ SetUpImpl()</tspan><tspan x="2309" dy="14.6">+ TearDown()</tspan><tspan x="2309" dy="14.6">+ createWithUsDeviceId()</tspan></text>
</g>

<g id="n_testingTest">
<rect class="b" x="2493" y="3890.5" width="155" height="264.8"/>
<path class="sb" d="M2493,3915.5H2648M2493,3940.5H2648"/>
<text class="c" x="2570.5" y="3907">testing::Test</text>
<text x="2504" y="3957">+ ~Test()<tspan x="2504" dy="14.6">+ SetUpTestSuite()</tspan><tspan x="2504" dy="14.6">+ TearDownTestSuite()</tspan><tspan x="2504" dy="14.6">+ TearDownTestCase()</tspan><tspan x="2504" dy="14.6">+ SetUpTestCase()</tspan><tspan x="2504" dy="14.6">+ HasFatalFailure()</tspan><tspan x="2504" dy="14.6">+ HasNonfatalFailure()</tspan><tspan x="2504" dy="14.6">+ IsSkipped()</tspan><tspan x="2504" dy="14.6">+ HasFailure()</tspan><tspan x="2504" dy="14.6">+ RecordProperty()</tspan><tspan x="2504" dy="14.6">+ RecordProperty()</tspan><tspan x="2504" dy="14.6"># Test()</tspan><tspan x="2504" dy="14.6"># SetUp()</tspan><tspan x="2504" dy="14.6"># TearDown()</tspan></text>
</g>

<g id="n_CommandStreamReceiverHwTest">
<rect class="m" x="2224" y="4207.5" width="317" height="191.8"/>
<path class="sm" d="M2224,4247.1H2541M2224,4272.1H2541"/>
<text x="2235" y="4224">CommandStreamReceiverHwTest</text>
<text class="c" x="2382.5" y="4238.6">&lt; GfxFamily &gt;</text>
<text x="2235" y="4288.6">+ SetUp()<tspan x="2235" dy="14.6">+ TearDown()</tspan><tspan x="2235" dy="14.6">+ givenKernelWithSlmWhenPrevious</tspan><tspan x="2235" dy="14.6">NOSLML3WasSentThenProgramL3WithSLML3</tspan><tspan x="2235" dy="14.6">ConfigImpl()</tspan><tspan x="2235" dy="14.6">+ givenBlockedKernelWithSlm</tspan><tspan x="2235" dy="14.6">WhenPreviousNOSLML3WasSentThen</tspan><tspan x="2235" dy="14.6">ProgramL3WithSLML3ConfigAfterUnblockingImpl()</tspan></text>
</g>

<g id="edges">
<path class="e" marker-end="url(#dia)" d="M188,322C330,440 700,570 1086,623"/>
<path class="e" marker-end="url(#dia)" d="M341,271C390,400 800,540 1086,614"/>
<path class="e" marker-end="url(#dia)" d="M536,242C600,370 800,490 1086,594"/>
<path class="e" marker-end="url(#dia)" d="M725,220C790,350 950,460 1086,566"/>
<path class="e" marker-end="url(#dia)" d="M897,220C915,380 1000,470 1086,546"/>
<path class="e" marker-end="url(#dia)" d="M1073,206L1117,396"/>
<path class="e" marker-end="url(#dia)" d="M1244,293L1226,396"/>
<path class="e" marker-end="url(#dia)" d="M1415,300C1385,380 1320,450 1272,500"/>
<path class="e" marker-end="url(#dia)" d="M1679,206C1640,330 1450,470 1272,578"/>
<path class="e" marker-end="url(#dia)" d="M1908,293L1955,520"/>
<path class="e" marker-end="url(#dia)" d="M2241,293C2200,370 2030,380 2012,520"/>
<path class="i" marker-end="url(#tri)" d="M1823,1659C1850,1450 1850,800 1878,430C1885,370 1960,385 1995,372C2040,350 2060,290 2070,242"/>
<path class="i" marker-end="url(#tri)" d="M2169,585L2107,242"/>
<path class="i" marker-end="url(#tri)" d="M2628,469L2628,272"/>
<path class="e" marker-end="url(#dia)" d="M2020,741L2089,946"/>
<path class="e" marker-end="url(#dia)" d="M2179,675L2191,946"/>
<path class="i" marker-end="url(#tri)" d="M2313,946L2365,734"/>
<path class="e" marker-end="url(#dia)" d="M2560,792C2540,840 2520,860 2490,878C2420,900 2345,915 2318,963"/>
<path class="i" marker-end="url(#tri)" d="M2494,1195L2599,793"/>
<path class="e" marker-end="url(#dia)" d="M2628,792L2630,2500C2645,2780 2640,2900 2590,3010C2540,3080 2470,3110 2411,3133"/>
<path class="e" marker-end="url(#dia)" d="M1272,672C1500,780 1900,1000 2091,1162"/>
<path class="e" marker-end="url(#dia)" d="M1272,682C1450,780 1640,900 1660,1200L1694,1659"/>
<path class="i" marker-end="url(#tri)" d="M1272,784C1330,850 1420,1000 1445,1159"/>
<path class="e" marker-end="url(#dia)" d="M1272,752C1360,840 1450,1000 1457,1159"/>
<path class="e" marker-end="url(#dia)" d="M1133,865C1080,1400 1120,1750 1300,2010L1623,2512"/>
<path class="e" marker-end="url(#dia)" d="M1262,1328C1280,1450 1320,1540 1360,1600L1596,1845"/>
<path class="e" marker-end="url(#dia)" d="M1710,2201L1710,2498"/>
<path class="e" marker-end="url(#dia)" d="M2091,1425L1823,1774"/>
<path class="e" marker-end="url(#dia)" d="M2318,1574C2350,1620 2420,1628 2550,1630C2700,1632 2760,1640 2790,1668"/>
<path class="i" marker-end="url(#tri)" d="M2221,1841L2214,1590"/>
<path class="i" marker-end="url(#tri)" d="M2223,2359L2223,2019"/>
<path class="i" marker-end="url(#tri)" d="M2455,2228L2467,1343"/>
<path class="e" marker-end="url(#dia)" d="M1982,741L1982,2500C1985,2700 2000,2770 2040,2830L2152,2972"/>
<path class="e" marker-end="url(#dia)" d="M2251,2902L2257,2968"/>
<path class="e" marker-end="url(#dia)" d="M2098,2902C2060,3100 2040,3350 2100,3520C2160,3690 2260,3830 2324,3949"/>
<path class="e" marker-end="url(#dia)" d="M2308,3452L2369,3949"/>
<path class="e" marker-end="url(#dia)" d="M2457,2333C2485,2600 2485,3200 2475,3500C2470,3750 2440,3850 2414,3949"/>
<path class="e" marker-end="url(#dia)" d="M3247,3258C3100,3380 2700,3680 2600,3760C2500,3840 2450,3890 2427,3949"/>
<path class="e" marker-end="url(#dia)" d="M3579,3375C3450,3600 3200,3800 3023,3867C2950,3890 2800,3875 2650,3868C2520,3862 2450,3880 2437,3949"/>
<path class="i" marker-end="url(#tri)" d="M2302,4207L1967,3808"/>
<path class="i" marker-end="url(#tri)" d="M2383,4207L2383,4097"/>
<path class="i" marker-end="url(#tri)" d="M2448,4207L2493,4138"/>
<path class="e" marker-end="url(#dia)" d="M1729,2763C1760,3000 1795,3250 1827,3480"/>
<path class="i" marker-end="url(#tri)" d="M3239,2594L3227,1982"/>
<path class="i" marker-end="url(#tri)" d="M3416,2594L3424,1975"/>
<path class="e" marker-end="url(#dia)" d="M3246,2669L3306,3159"/>
<path class="e" marker-end="url(#dia)" d="M3411,2669L3326,3159"/>
<path class="e" marker-end="url(#dia)" d="M3590,2742C3550,2830 3470,2980 3355,3159"/>
<path class="e" marker-end="url(#dia)" d="M3659,2047L3647,2521"/>
<path class="e" marker-end="url(#dia)" d="M3912,1982C3880,2150 3840,2290 3790,2335C3740,2380 3700,2460 3685,2521"/>
<path class="i" marker-end="url(#tri)" d="M3759,2990L3839,2734"/>
<path class="i" marker-end="url(#tri)" d="M2411,3146C2560,3060 2660,2960 2720,2800C2800,2600 2860,2400 2881,2193"/>
<path class="e" marker-end="url(#dia)" d="M2939,1380L2921,1665"/>
<path class="e" marker-end="url(#dia)" d="M2816,669C2770,900 2758,1100 2760,1300C2763,1500 2785,1600 2797,1665"/>
<path class="e" marker-end="url(#dia)" d="M2831,669L2924,1159"/>
<path class="e" marker-end="url(#dia)" d="M2952,669L2948,1159"/>
<path class="i" marker-end="url(#tri)" d="M3143,1093L3143,734"/>
<path class="i" marker-end="url(#tri)" d="M3117,1093C3090,980 3060,900 3023,875C2985,850 2965,760 2959,669"/>
<path class="i" marker-end="url(#tri)" d="M2829,594L2880,206"/>
<path class="i" marker-end="url(#tri)" d="M2948,594L2894,206"/>
<path class="e" marker-end="url(#dia)" d="M3362,697L3214,1093"/>
<path class="i" marker-end="url(#tri)" d="M3012,1675L3089,1445"/>
<path class="e" marker-end="url(#dia)" d="M3012,1880C3048,1895 3048,1965 3012,1978"/>
<text x="249" y="366">+storageInfo</text>
<text x="428" y="366">#allocationInfo</text>
<text x="649" y="366">#aubInfo</text>
<text x="834" y="366">#sharingInfo</text>
<text x="941" y="366">#reservedAddressRangeInfo</text>
<text x="1115" y="366">#memoryPool</text>
<text x="1235" y="366">#usageInfos</text>
<text x="1384" y="366">#gmms</text>
<text x="1578" y="366">+fragmentsStorage</text>
<text x="1926" y="366">+threadsPerEUConfigs</text>
<text x="2173" y="366">+maxSubGroups</text>
<text x="1378" y="902">+next</text>
<text x="1378" y="917">+prev</text>
<text x="1761" y="909">#rtMemoryBackedBuffer</text>
<text x="2083" y="909">#deviceInfo</text>
<text x="2193" y="909">#selectorCopyEngine</text>
<text x="2434" y="909">#executionEnvironment</text>
<text x="2879" y="909">+platform</text>
<text x="2952" y="909">+parentDevice</text>
<text x="3289" y="909">#cond</text>
<text x="1694" y="1273">#allocationIndirectHeaps</text>
<text x="2786" y="1273">#platformId</text>
<text x="1156" y="1628">#graphicsAllocation</text>
<text x="1387" y="1628">#reusableAllocationList</text>
<text x="1947" y="1628">#device</text>
<text x="2698" y="1628">#device</text>
<text x="2926" y="1628">#deviceInfo</text>
<text x="1985" y="1933">+sharedDeviceInfo</text>
<text x="2631" y="1933">+executionEnvironment</text>
<text x="3038" y="1933">#rootClDevice</text>
<text x="1713" y="2284">#cmdContainer</text>
<text x="3656" y="2284">+kmdNotifyProperties</text>
<text x="3842" y="2284">+directSubmissionEngines</text>
<text x="1756" y="2940">+previousCS</text>
<text x="2259" y="2940">+device</text>
<text x="2489" y="2940">+pClExecutionEnvironment</text>
<text x="3282" y="2940">+featureTable</text>
<text x="3374" y="2940">+workaroundTable</text>
<text x="3496" y="2940">+capabilityTable</text>
<text x="2085" y="3214">+pDevice</text>
<text x="2362" y="3675">+pClDevice</text>
<text x="2941" y="3675">+hardwareInfo</text>
<text x="3487" y="3675">+osContext</text>
</g>
</svg>
